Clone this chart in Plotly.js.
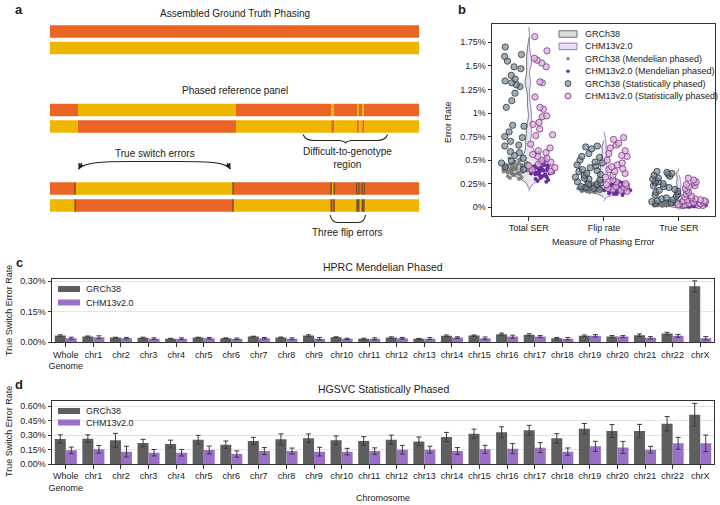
<!DOCTYPE html>
<html><head><meta charset="utf-8">
<script src="https://cdn.plot.ly/plotly-3.0.1.min.js"></script>
<style>html,body{margin:0;padding:0;background:#fff}#chart{width:720px;height:505px}</style>
</head><body><div id="chart"></div>
<script>
// ================= DATA =================
// Panel a: schematic (genome position units 0-100)
const genomeEnd = 100;
const refSwitches = [7.6, 50.4];
const callSwitches = [6.8, 49.6];
const flipRegions = [[76.2, 77.0], [83.2, 83.7], [84.6, 85.1]];

// Panel b: error rates (%) per sample
const metricLabels = ['Total SER', 'Flip rate', 'True SER'];
const grchMendelTotal = [0.50,0.48,0.47,0.46,0.45,0.45,0.44,0.44,0.43,0.43,0.42,0.42,0.42,0.41,0.41,0.41,0.40,0.40,0.40,0.40,0.39,0.39,0.39,0.38,0.38,0.38,0.37,0.37,0.36,0.36,0.35,0.35,0.34,0.33,0.32,0.31,0.30,0.43,0.46,0.52];
const chmMendelTotal = [0.58,0.52,0.50,0.49,0.47,0.46,0.45,0.44,0.43,0.43,0.42,0.42,0.41,0.41,0.40,0.40,0.40,0.39,0.39,0.38,0.38,0.38,0.37,0.37,0.36,0.36,0.35,0.35,0.34,0.34,0.33,0.32,0.31,0.30,0.29,0.28,0.27,0.44,0.39,0.36];
const grchStatTotal = [1.70,1.62,1.60,1.55,1.49,1.47,1.40,1.36,1.34,1.32,1.30,1.28,1.21,1.13,1.06,0.87,0.86,0.80,0.75,0.74,0.70,0.66,0.65,0.59,0.58,0.55,0.52,0.49,0.47,0.45,0.43,0.40];
const chmStatTotal = [1.81,1.66,1.58,1.56,1.53,1.49,1.33,1.32,1.17,1.06,1.04,0.97,0.96,0.90,0.88,0.83,0.77,0.76,0.67,0.63,0.60,0.58,0.56,0.54,0.52,0.50,0.48,0.46,0.44,0.42,0.40,0.38];
const grchMendelFlip = [0.27,0.26,0.25,0.24,0.24,0.23,0.23,0.22,0.22,0.22,0.21,0.21,0.21,0.21,0.20,0.20,0.20,0.20,0.20,0.19,0.19,0.19,0.19,0.18,0.18,0.18,0.18,0.17,0.17,0.17,0.16,0.16,0.22,0.21,0.20,0.19,0.23,0.20,0.18,0.21];
const chmMendelFlip = [0.30,0.28,0.27,0.26,0.25,0.25,0.24,0.24,0.23,0.23,0.22,0.22,0.21,0.21,0.21,0.20,0.20,0.20,0.19,0.19,0.19,0.18,0.18,0.18,0.17,0.17,0.17,0.16,0.16,0.15,0.15,0.14,0.14,0.13,0.21,0.19,0.17,0.20,0.22,0.18];
const grchStatFlip = [0.65,0.64,0.62,0.57,0.54,0.53,0.50,0.48,0.47,0.45,0.44,0.42,0.40,0.39,0.38,0.36,0.35,0.34,0.32,0.31,0.30,0.29,0.27,0.26,0.25,0.24,0.22,0.21,0.20,0.19];
const chmStatFlip = [0.74,0.72,0.68,0.66,0.63,0.60,0.57,0.55,0.54,0.50,0.47,0.45,0.43,0.41,0.40,0.38,0.36,0.34,0.32,0.29,0.27,0.25,0.24,0.23,0.22,0.21,0.20,0.19,0.18,0.17];
const grchMendelTrue = [0.07,0.06,0.06,0.05,0.05,0.05,0.05,0.04,0.04,0.04,0.04,0.04,0.04,0.04,0.03,0.03,0.03,0.03,0.03,0.03,0.03,0.03,0.03,0.03,0.02,0.02,0.02,0.02,0.02,0.02,0.02,0.02,0.04,0.03,0.05,0.03,0.04,0.02,0.03,0.03];
const chmMendelTrue = [0.08,0.06,0.05,0.05,0.05,0.04,0.04,0.04,0.04,0.03,0.03,0.03,0.03,0.03,0.03,0.02,0.02,0.02,0.02,0.02,0.02,0.02,0.02,0.02,0.01,0.01,0.01,0.01,0.01,0.01,0.02,0.03,0.02,0.04,0.02,0.01,0.03,0.02,0.01,0.02];
const grchStatTrue = [0.38,0.37,0.36,0.35,0.34,0.33,0.31,0.30,0.28,0.27,0.26,0.25,0.23,0.22,0.21,0.19,0.18,0.17,0.16,0.14,0.13,0.12,0.10,0.09,0.08,0.07,0.06,0.05,0.05,0.04];
const chmStatTrue = [0.31,0.29,0.27,0.26,0.24,0.23,0.22,0.20,0.18,0.16,0.14,0.12,0.11,0.10,0.09,0.08,0.08,0.07,0.07,0.06,0.06,0.05,0.05,0.04,0.04,0.03,0.03,0.02,0.02,0.02];
const yTickVals = [0,0.25,0.5,0.75,1,1.25,1.5,1.75];
const yTickText = ['0%','0.25%','0.5%','0.75%','1%','1.25%','1.5%','1.75%'];

// Panels c & d: true switch error rate (%) per chromosome
const chromosomes = ['Whole<br>Genome','chr1','chr2','chr3','chr4','chr5','chr6','chr7','chr8','chr9','chr10','chr11','chr12','chr13','chr14','chr15','chr16','chr17','chr18','chr19','chr20','chr21','chr22','chrX'];
const hprcGRCh38 = [0.033,0.028,0.023,0.022,0.018,0.023,0.020,0.028,0.023,0.033,0.025,0.017,0.023,0.017,0.032,0.033,0.040,0.037,0.020,0.032,0.028,0.035,0.043,0.275];
const hprcGRCh38Err = [0.004,0.003,0.002,0.003,0.002,0.002,0.002,0.002,0.003,0.004,0.002,0.003,0.004,0.002,0.004,0.003,0.005,0.005,0.004,0.004,0.005,0.006,0.006,0.027];
const hprcCHM13 = [0.020,0.025,0.020,0.018,0.018,0.020,0.017,0.020,0.018,0.018,0.017,0.017,0.020,0.018,0.023,0.020,0.028,0.028,0.018,0.032,0.028,0.022,0.032,0.020];
const hprcCHM13Err = [0.005,0.007,0.004,0.004,0.004,0.004,0.004,0.004,0.004,0.006,0.003,0.005,0.004,0.005,0.004,0.006,0.007,0.005,0.006,0.006,0.005,0.006,0.007,0.008];
const hgsvcGRCh38 = [0.259,0.262,0.245,0.217,0.207,0.252,0.200,0.238,0.255,0.266,0.245,0.238,0.252,0.234,0.279,0.314,0.328,0.348,0.266,0.366,0.341,0.341,0.417,0.510];
const hgsvcGRCh38Err = [0.043,0.040,0.072,0.038,0.040,0.045,0.038,0.038,0.057,0.045,0.045,0.045,0.047,0.045,0.048,0.047,0.057,0.052,0.048,0.053,0.067,0.069,0.074,0.117];
const hgsvcCHM13 = [0.141,0.152,0.128,0.117,0.117,0.145,0.103,0.134,0.134,0.128,0.128,0.134,0.148,0.148,0.134,0.152,0.159,0.169,0.128,0.183,0.172,0.148,0.214,0.214];
const hgsvcCHM13Err = [0.034,0.040,0.055,0.033,0.034,0.041,0.033,0.036,0.031,0.045,0.034,0.033,0.045,0.036,0.036,0.041,0.052,0.052,0.038,0.052,0.062,0.034,0.062,0.086];

// ================= STYLE / LAYOUT HELPERS =================
const W = 720, H = 505;
const px = v => v / W;
const py = v => 1 - v / H;
const ORANGE = '#EA6424', YELLOW = '#EFB600';
const GRAY_BAR = '#5e5e5e', PURPLE_BAR = '#9a6fc6';
const FONT = 'Liberation Sans, Arial, sans-serif';
const TXT = '#222';
const rowY = [31.5, 48, 110, 126.5, 188.5, 205.5];   // y positions of the six haplotype bars (layout)
const barThick = 12.5;
const violinBandwidth = [0.05, 0.03, 0.015];          // per metric kde bandwidth (style)

// ================= PANEL a =================
function segments(cuts) {
  const all = [0, ...cuts, genomeEnd].sort((a, b) => a - b);
  const segs = []; let h = 0;
  for (let i = 0; i < all.length - 1; i++) { segs.push([all[i], all[i + 1], h]); h = 1 - h; }
  return segs;
}
const flipCuts = flipRegions.flat();
const rowsCuts = [[], refSwitches.concat(flipCuts), callSwitches.concat(flipCuts)];
const segY = [], segBase = [], segLen = [], segCol = [];
rowsCuts.forEach((cuts, r) => {
  segments(cuts).forEach(([s, e, h]) => {
    [0, 1].forEach(k => {
      segY.push(rowY[2 * r + k]); segBase.push(s); segLen.push(e - s);
      segCol.push((h ^ k) ? YELLOW : ORANGE);
    });
  });
});
const traces = [];
traces.push({type: 'bar', orientation: 'h', x: segLen, base: segBase, y: segY, width: barThick,
  marker: {color: segCol, line: {width: 0}}, xaxis: 'x', yaxis: 'y', showlegend: false, hoverinfo: 'skip'});
const markX = [], markY = [];
callSwitches.concat(flipCuts).forEach(c => {
  [4, 5].forEach(r => { markX.push(c, c, null); markY.push(rowY[r] - barThick / 2, rowY[r] + barThick / 2, null); });
});
traces.push({type: 'scatter', mode: 'lines', x: markX, y: markY, line: {color: '#2a2a2a', width: 0.9},
  xaxis: 'x', yaxis: 'y', showlegend: false, hoverinfo: 'skip'});

// ================= PANEL b =================
const grchAll = [grchMendelTotal.concat(grchStatTotal), grchMendelFlip.concat(grchStatFlip), grchMendelTrue.concat(grchStatTrue)];
const chmAll = [chmMendelTotal.concat(chmStatTotal), chmMendelFlip.concat(chmStatFlip), chmMendelTrue.concat(chmStatTrue)];
function stack(arrs) { const x = [], y = []; arrs.forEach((a, i) => a.forEach(v => { x.push(i); y.push(v); })); return {x, y}; }
const VW = 0.66;
[0, 1, 2].forEach(i => {
  traces.push({type: 'violin', name: 'GRCh38', x: grchAll[i].map(() => i), y: grchAll[i], side: 'negative', width: VW,
    bandwidth: violinBandwidth[i], fillcolor: 'rgba(205,205,205,0.55)', line: {color: '#707070', width: 1}, points: false,
    box: {visible: false}, meanline: {visible: false}, xaxis: 'x2', yaxis: 'y2', showlegend: false, hoverinfo: 'skip'});
  traces.push({type: 'violin', name: 'CHM13v2.0', x: chmAll[i].map(() => i), y: chmAll[i], side: 'positive', width: VW,
    bandwidth: violinBandwidth[i], fillcolor: 'rgba(226,212,242,0.55)', line: {color: '#9c74cc', width: 1}, points: false,
    box: {visible: false}, meanline: {visible: false}, xaxis: 'x2', yaxis: 'y2', showlegend: false, hoverinfo: 'skip'});
});
function pointTrace(d, pos, jit, marker) {
  return {type: 'violin', x: d.x, y: d.y, width: VW, points: 'all', pointpos: pos, jitter: jit,
    fillcolor: 'rgba(0,0,0,0)', line: {width: 0, color: 'rgba(0,0,0,0)'}, marker: marker,
    box: {visible: false}, meanline: {visible: false}, hoveron: 'points',
    xaxis: 'x2', yaxis: 'y2', showlegend: false, hoverinfo: 'skip'};
}
const mGM = {size: 4, color: 'rgba(118,118,118,0.85)', line: {width: 0}};
const mCM = {size: 4, color: '#6a2ca0', line: {width: 0}};
const mGS = {size: 6.3, color: 'rgba(112,130,144,0.65)', line: {color: '#2b3640', width: 0.8}};
const mCS = {size: 6.3, color: 'rgba(228,176,228,0.8)', line: {color: '#6e3e78', width: 0.8}};
traces.push(pointTrace(stack([grchMendelTotal, grchMendelFlip, grchMendelTrue]), -0.55, 0.55, mGM));
traces.push(pointTrace(stack([chmMendelTotal, chmMendelFlip, chmMendelTrue]), 0.55, 0.55, mCM));
traces.push(pointTrace(stack([grchStatTotal, grchStatFlip, grchStatTrue]), -0.55, 0.65, mGS));
traces.push(pointTrace(stack([chmStatTotal, chmStatFlip, chmStatTrue]), 0.55, 0.65, mCS));

// ================= PANELS c & d =================
function barTrace(name, y, err, color, ax) {
  return {type: 'bar', name: name, x: chromosomes, y: y, marker: {color: color, line: {width: 0}},
    error_y: {type: 'data', array: err, color: '#3c3c3c', thickness: 1, width: 2.5},
    xaxis: 'x' + ax, yaxis: 'y' + ax, showlegend: false, hoverinfo: 'skip'};
}
traces.push(barTrace('GRCh38', hprcGRCh38, hprcGRCh38Err, GRAY_BAR, 3));
traces.push(barTrace('CHM13v2.0', hprcCHM13, hprcCHM13Err, PURPLE_BAR, 3));
traces.push(barTrace('GRCh38', hgsvcGRCh38, hgsvcGRCh38Err, GRAY_BAR, 4));
traces.push(barTrace('CHM13v2.0', hgsvcCHM13, hgsvcCHM13Err, PURPLE_BAR, 4));

// ================= LAYOUT =================
const frame = {showline: true, mirror: true, linecolor: '#333', linewidth: 1, ticks: 'outside',
  ticklen: 3.5, tickcolor: '#333', zeroline: false, tickfont: {size: 9, color: TXT}, fixedrange: true};
const shapes = [
  {type: 'path', xref: 'x', yref: 'y', line: {color: '#222', width: 1.1},
   path: 'M 68.6,134.5 Q 69.2,140.5 71.5,140.5 L 78.2,140.5 Q 79.6,140.5 80.1,142.8 Q 80.6,140.5 82,140.5 L 88.6,140.5 Q 90.9,140.5 91.5,134.5'},
  {type: 'path', xref: 'x', yref: 'y', line: {color: '#222', width: 1.1},
   path: 'M 75.9,215 Q 76.3,222.5 78,222.5 L 83.5,222.5 Q 85.2,222.5 85.5,215'},
  {type: 'path', xref: 'x', yref: 'y', line: {color: '#222', width: 1.1},
   path: 'M 7.7,169 C 9.6,162.5 13.5,161.5 22,161.5 L 35,161.5 C 44,161.5 47.5,162.5 48.9,169'}
];
function ann(text, x, y, size, extra) {
  return Object.assign({text: text, x: px(x), y: py(y), xref: 'paper', yref: 'paper', showarrow: false,
    xanchor: 'center', yanchor: 'middle', font: {family: FONT, size: size, color: TXT}}, extra || {});
}
const annotations = [
  ann('<b>a</b>', 19, 9, 13), ann('<b>b</b>', 462, 9, 13), ann('<b>c</b>', 19, 262, 13), ann('<b>d</b>', 19, 384, 13),
  ann('Assembled Ground Truth Phasing', 235, 13, 10),
  ann('Phased reference panel', 235, 91, 10),
  ann('True switch errors', 155, 153, 10),
  ann('Difficult-to-genotype<br>region', 347.5, 158, 10),
  ann('Three flip errors', 347, 233, 10),
  ann('Error Rate', 448, 122, 9, {textangle: -90}),
  ann('Measure of Phasing Error', 603, 242, 9),
  ann('HPRC Mendelian Phased', 383, 267, 10.5),
  ann('HGSVC Statistically Phased', 383, 389, 10.5),
  ann('True Switch Error Rate', 9, 311, 9, {textangle: -90}),
  ann('True Switch Error Rate', 9, 432, 9, {textangle: -90}),
  ann('Chromosome', 383, 498, 9),
  {text: '', x: 7.7, y: 169.5, xref: 'x', yref: 'y', ax: 4, ay: -8, showarrow: true, arrowhead: 2, arrowsize: 1.1, arrowwidth: 1.1, arrowcolor: '#222'},
  {text: '', x: 48.9, y: 169.5, xref: 'x', yref: 'y', ax: -4, ay: -8, showarrow: true, arrowhead: 2, arrowsize: 1.1, arrowwidth: 1.1, arrowcolor: '#222'}
];

// ---- hand-built legends (compact, like the reference) ----
function legendText(t, x, y) { annotations.push(ann(t, x, y, 9, {xanchor: 'left'})); }
function legendRect(x0, x1, yc, h, fill, line) {
  shapes.push({type: 'rect', xref: 'paper', yref: 'paper', x0: px(x0), x1: px(x1), y0: py(yc + h / 2), y1: py(yc - h / 2),
    fillcolor: fill, line: {color: line, width: line ? 1 : 0}});
}
function legendDot(xc, yc, r, m) {
  shapes.push({type: 'circle', xref: 'paper', yref: 'paper', x0: px(xc - r), x1: px(xc + r), y0: py(yc + r), y1: py(yc - r),
    fillcolor: m.color, line: {color: m.line.width ? m.line.color : 'rgba(0,0,0,0)', width: m.line.width || 0}});
}
const legB = [
  ['GRCh38', 'patch', 'rgba(205,205,205,0.7)', '#707070'],
  ['CHM13v2.0', 'patch', 'rgba(226,212,242,0.7)', '#9c74cc'],
  ['GRCh38 (Mendelian phased)', 'dot', mGM, 1.8],
  ['CHM13v2.0 (Mendelian phased)', 'dot', mCM, 1.8],
  ['GRCh38 (Statistically phased)', 'dot', mGS, 3],
  ['CHM13v2.0 (Statistically phased)', 'dot', mCS, 3]
];
legB.forEach((e, i) => {
  const yc = 34 + i * 12.4;
  if (e[1] === 'patch') legendRect(559, 577, yc, 6.5, e[2], e[3]); else legendDot(568, yc, e[3], e[2]);
  legendText(e[0], 583, yc);
});
[[289, 302.5], [411, 422.5]].forEach(rows => {
  legendRect(58, 80, rows[0], 6, GRAY_BAR, null); legendText('GRCh38', 84, rows[0]);
  legendRect(58, 80, rows[1], 6, PURPLE_BAR, null); legendText('CHM13v2.0', 84, rows[1]);
});

const layout = {
  width: W, height: H, margin: {l: 0, r: 0, t: 0, b: 0}, paper_bgcolor: '#fff', plot_bgcolor: '#fff',
  font: {family: FONT, size: 9, color: TXT}, showlegend: false,
  barmode: 'group', bargap: 0.2, bargroupgap: 0, violinmode: 'overlay',
  xaxis: {domain: [px(50), px(419)], range: [0, genomeEnd], visible: false, fixedrange: true},
  yaxis: {domain: [py(245), 1], range: [245, 0], visible: false, fixedrange: true},
  xaxis2: Object.assign({}, frame, {anchor: 'y2', domain: [px(492), px(715)], range: [-0.49, 2.48],
    tickvals: [0, 1, 2], ticktext: metricLabels, showgrid: false, tickangle: 0}),
  yaxis2: Object.assign({}, frame, {anchor: 'x2', domain: [py(216), py(24)], range: [-0.092, 1.944],
    tickvals: yTickVals, ticktext: yTickText, showgrid: false}),
  xaxis3: Object.assign({}, frame, {anchor: 'y3', domain: [px(52), px(714)], type: 'category', range: [-0.5, 23.5], showgrid: false, tickangle: 0}),
  yaxis3: Object.assign({}, frame, {anchor: 'x3', domain: [py(342.3), py(279)], range: [0, 0.311],
    tickvals: [0, 0.15, 0.30], ticktext: ['0.00%', '0.15%', '0.30%'], showgrid: true, gridcolor: '#e4e4e4'}),
  xaxis4: Object.assign({}, frame, {anchor: 'y4', domain: [px(52), px(714)], type: 'category', range: [-0.5, 23.5], showgrid: false, tickangle: 0}),
  yaxis4: Object.assign({}, frame, {anchor: 'x4', domain: [py(464), py(400.7)], range: [0, 0.655],
    tickvals: [0, 0.15, 0.30, 0.45, 0.60], ticktext: ['0.00%', '0.15%', '0.30%', '0.45%', '0.60%'], showgrid: true, gridcolor: '#e4e4e4'}),
  shapes: shapes, annotations: annotations
};
Plotly.newPlot('chart', traces, layout, {staticPlot: true, displayModeBar: false});
</script></body></html>
